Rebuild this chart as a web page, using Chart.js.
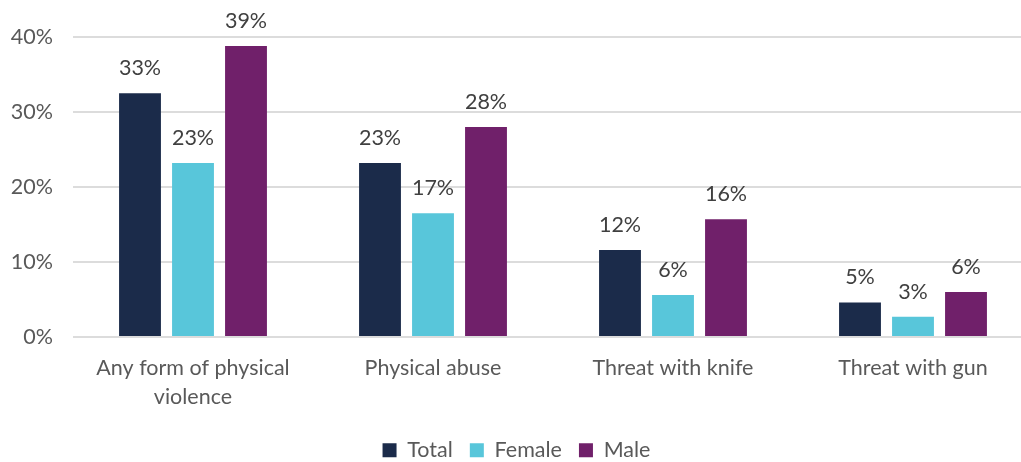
<!DOCTYPE html>
<html>
<head>
<meta charset="utf-8">
<script src="https://cdn.jsdelivr.net/npm/chart.js@4"></script>
<style>
  html, body { margin: 0; padding: 0; background: #fff; overflow: hidden; }
  #wrap { width: 1060px; height: 471px; position: relative; }
</style>
</head>
<body>
<div id="wrap"><canvas id="chart"></canvas></div>
<script>
const categories = [['Any form of physical', 'violence'], 'Physical abuse', 'Threat with knife', 'Threat with gun'];
const totalValues = [32.5, 23.2, 11.6, 4.6];
const femaleValues = [23.2, 16.5, 5.6, 2.7];
const maleValues = [38.8, 28.0, 15.7, 6.0];
const yTicks = [0, 10, 20, 30, 40];

const FONT = 'Lato, "Open Sans", sans-serif';

// draws the percentage above each bar
const valueLabels = {
    id: 'valueLabels',
    afterDatasetsDraw(chart) {
        const ctx = chart.ctx;
        ctx.save();
        ctx.font = '21.5px ' + FONT;
        ctx.fillStyle = '#404040';
        ctx.textAlign = 'center';
        ctx.textBaseline = 'middle';
        chart.data.datasets.forEach((ds, i) => {
            chart.getDatasetMeta(i).data.forEach((bar, j) => {
                ctx.fillText(Math.round(ds.data[j]) + '%', bar.x, bar.y - 25);
            });
        });
        ctx.restore();
    }
};

new Chart(document.getElementById('chart'), {
    type: 'bar',
    data: {
        labels: categories,
        datasets: [
            { label: 'Total', data: totalValues, backgroundColor: '#1b2b4a' },
            { label: 'Female', data: femaleValues, backgroundColor: '#58c6da' },
            { label: 'Male', data: maleValues, backgroundColor: '#70206a' }
        ]
    },
    options: {
        responsive: true,
        maintainAspectRatio: false,
        animation: false,
        layout: { padding: { top: 37, right: 27, left: 0, bottom: 0 } },
        datasets: {
            bar: { categoryPercentage: 0.6625, barPercentage: 0.79 }
        },
        scales: {
            x: {
                grid: { display: false, drawTicks: false },
                border: { display: false },
                ticks: {
                    color: '#595959',
                    font: { family: FONT, size: 21.5, lineHeight: 1.35 },
                    padding: 17,
                    maxRotation: 0,
                    autoSkip: false
                },
                afterFit(scale) { scale.height = 85.5; }
            },
            y: {
                min: 0,
                max: 40,
                afterBuildTicks(scale) { scale.ticks = yTicks.map(v => ({ value: v })); },
                grid: { color: '#dcdcdc', lineWidth: 2, drawTicks: false },
                border: { display: false },
                ticks: {
                    color: '#595959',
                    font: { family: FONT, size: 21.5 },
                    padding: 20,
                    callback: v => v + '%'
                },
                afterFit(scale) { scale.width = 73; }
            }
        },
        plugins: {
            legend: {
                position: 'bottom',
                labels: {
                    color: '#595959',
                    font: { family: FONT, size: 21.5 },
                    boxWidth: 14,
                    boxHeight: 14,
                    padding: 17
                }
            },
            tooltip: { enabled: false }
        }
    },
    plugins: [valueLabels]
});
</script>
</body>
</html>
